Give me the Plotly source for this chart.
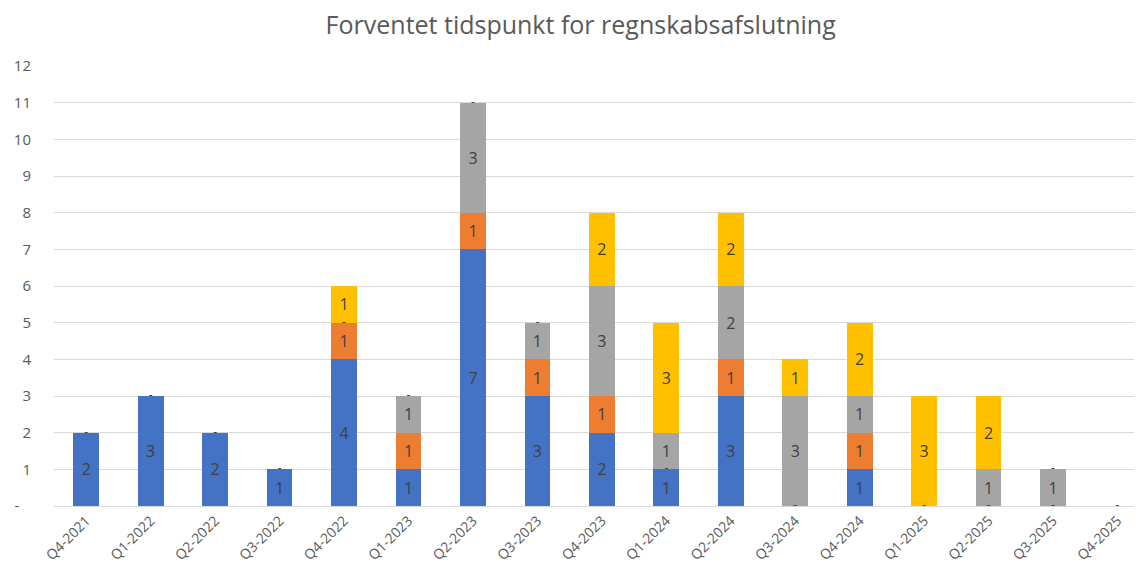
import plotly.graph_objects as go

categories = ["Q4-2021", "Q1-2022", "Q2-2022", "Q3-2022", "Q4-2022", "Q1-2023", "Q2-2023",
              "Q3-2023", "Q4-2023", "Q1-2024", "Q2-2024", "Q3-2024", "Q4-2024", "Q1-2025",
              "Q2-2025", "Q3-2025", "Q4-2025"]
blue_vals   = [2, 3, 2, 1, 4, 1, 7, 3, 2, 1, 3, 0, 1, 0, 0, 0, 0]
orange_vals = [0, 0, 0, 0, 1, 1, 1, 1, 1, 0, 1, 0, 1, 0, 0, 0, 0]
gray_vals   = [0, 0, 0, 0, 0, 1, 3, 1, 3, 1, 2, 3, 1, 0, 1, 1, 0]
yellow_vals = [0, 0, 0, 0, 1, 0, 0, 0, 2, 3, 2, 1, 2, 3, 2, 0, 0]
y_ticks = list(range(0, 13))
y_ticktext = ["-\u00a0\u00a0\u00a0"] + [str(v) for v in y_ticks[1:]]

series = [("Serie 1", blue_vals, "#4472C4"),
          ("Serie 2", orange_vals, "#ED7D31"),
          ("Serie 3", gray_vals, "#A5A5A5"),
          ("Serie 4", yellow_vals, "#FFC000")]

label_font = dict(family="Open Sans, sans-serif", size=16, color="#404040")

fig = go.Figure()
for name, vals, color in series:
    fig.add_trace(go.Bar(
        name=name, x=categories, y=vals, marker=dict(color=color, line=dict(width=0)),
        text=[str(v) if v else "" for v in vals], textposition="inside",
        insidetextanchor="middle", textangle=0, textfont=label_font,
        constraintext="none", width=0.4, hoverinfo="skip"))

# zero-value data labels ("-") at the stack position of each zero segment
dash_x, dash_y, seen = [], [], set()
for i, cat in enumerate(categories):
    cum = 0
    for _, vals, _ in series:
        if vals[i] == 0 and (i, cum) not in seen:
            seen.add((i, cum))
            dash_x.append(cat)
            dash_y.append(cum)
        cum += vals[i]
fig.add_trace(go.Scatter(x=dash_x, y=dash_y, mode="text", text=["-"] * len(dash_x),
                         textfont=dict(family="Open Sans, sans-serif", size=12, color="#404040"),
                         textposition="middle center",
                         hoverinfo="skip", showlegend=False, cliponaxis=False))

fig.update_layout(
    barmode="stack",
    width=1134, height=568,
    margin=dict(l=46, r=0, t=58, b=70),
    paper_bgcolor="white", plot_bgcolor="white",
    showlegend=False,
    title=dict(text="Forventet tidspunkt for regnskabsafslutning", x=0.505, xanchor="center",
               y=0.970, yanchor="middle",
               font=dict(family="Open Sans, sans-serif", size=25, color="#595959")),
    font=dict(family="Open Sans, sans-serif", color="#595959"),
    xaxis=dict(type="category", range=[-0.5, 16.38], tickangle=-45,
               tickfont=dict(size=14, color="#595959"), showgrid=False,
               showline=True, linecolor="#D9D9D9", linewidth=1, ticks=""),
    yaxis=dict(range=[0, 12], tickvals=y_ticks, ticktext=y_ticktext,
               tickfont=dict(size=15, color="#595959"), showgrid=True,
               gridcolor="#D9D9D9", gridwidth=1, zeroline=False, ticks="",
               ticklabelstandoff=22),
)

fig.write_html("out.html")
